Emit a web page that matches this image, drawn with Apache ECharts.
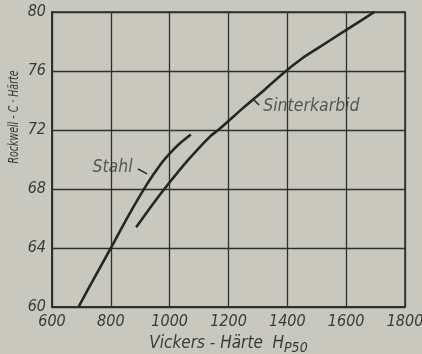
<!DOCTYPE html>
<html><head><meta charset="utf-8">
<script src="https://cdn.jsdelivr.net/npm/echarts@6/dist/echarts.min.js"></script>
<style>html,body{margin:0;padding:0;background:#c8c8be;}#c{width:422px;height:354px;}</style>
</head><body><div id="c"></div>
<script>
// Data
const xTicks = [600, 800, 1000, 1200, 1400, 1600, 1800];
const yTicks = [60, 64, 68, 72, 76, 80];
const stahl = [[690,60],[750,62.2],[800,64],[860,66.2],[922,68.3],[970,69.7],[1000,70.4],[1035,71.1],[1072,71.7]];
const sinterkarbid = [[886,65.4],[940,66.9],[988,68.15],[1060,69.9],[1137,71.55],[1171,72.1],[1250,73.5],[1318,74.65],[1392,75.95],[1450,76.85],[1500,77.5],[1594,78.7],[1696,80]];
const stahlLeader = [[892,69.36],[923,69.02]];
const sinterLeader = [[1283,74.1],[1304,73.7]];
const labelNames = ['Stahl', 'Sinterkarbid'];
const labelAnchors = [[874,69.45],[1318,73.6]];

const FONT = '"Liberation Sans Narrow","DejaVu Sans Condensed","Liberation Sans",sans-serif';
const TXT = '#3a3a37';
const LINE = '#2f2f2d';

const chart = echarts.init(document.getElementById('c'), null, {renderer:'canvas'});
chart.setOption({
  backgroundColor: '#c8c8be',
  animation: false,
  grid: {left:52, right:17, top:12, bottom:47, outerBoundsMode:'none', containLabel:false,
         show:true, borderColor:LINE, borderWidth:1.5, backgroundColor:'transparent'},
  xAxis: {
    type:'value', min:xTicks[0], max:xTicks[xTicks.length-1], interval:200,
    axisLine:{show:true, lineStyle:{color:LINE, width:2}},
    axisTick:{show:false},
    splitLine:{show:true, lineStyle:{color:LINE, width:1.3}},
    axisLabel:{color:TXT, fontFamily:FONT, fontStyle:'italic', fontSize:16, margin:7, formatter:v=>String(v)},
    name:'Vickers - Härte  H{s|P50}',
    nameLocation:'middle', nameGap:23,
    nameTextStyle:{color:TXT, fontFamily:FONT, fontStyle:'italic', fontSize:17,
      rich:{s:{color:TXT, fontFamily:FONT, fontStyle:'italic', fontSize:14, padding:[10,0,0,0]}}}
  },
  yAxis: {
    type:'value', min:yTicks[0], max:yTicks[yTicks.length-1], interval:4,
    axisLine:{show:true, lineStyle:{color:LINE, width:2}},
    axisTick:{show:false},
    splitLine:{show:true, lineStyle:{color:LINE, width:1.3}},
    axisLabel:{color:TXT, fontFamily:FONT, fontStyle:'italic', fontSize:16, margin:6, formatter:v=>String(v)}
  },
  graphic: [{
    type:'text', x:14, y:117, rotation:Math.PI/2, scaleX:0.75, originX:0, originY:0,
    style:{text:'Rockwell - C · Härte', fill:TXT, font:'italic 14px '+FONT, textAlign:'center', textVerticalAlign:'middle'}
  }],
  series: [
    {type:'line', data:stahl, smooth:0.25, showSymbol:false, lineStyle:{color:'#262624', width:2.6}},
    {type:'line', data:sinterkarbid, smooth:0.25, showSymbol:false, lineStyle:{color:'#262624', width:2.6}},
    {type:'line', data:stahlLeader, showSymbol:false, lineStyle:{color:'#262624', width:1.5}},
    {type:'line', data:sinterLeader, showSymbol:false, lineStyle:{color:'#262624', width:1.5}},
    {type:'scatter', symbolSize:0, silent:true,
     data:[
       {name:labelNames[0], value:labelAnchors[0], label:{position:'left', distance:0}},
       {name:labelNames[1], value:labelAnchors[1], label:{position:'right', distance:0}}
     ],
     label:{show:true, formatter:p=>p.name, color:TXT, fontFamily:FONT, fontStyle:'italic', fontSize:17.5}}
  ]
});
</script></body></html>
